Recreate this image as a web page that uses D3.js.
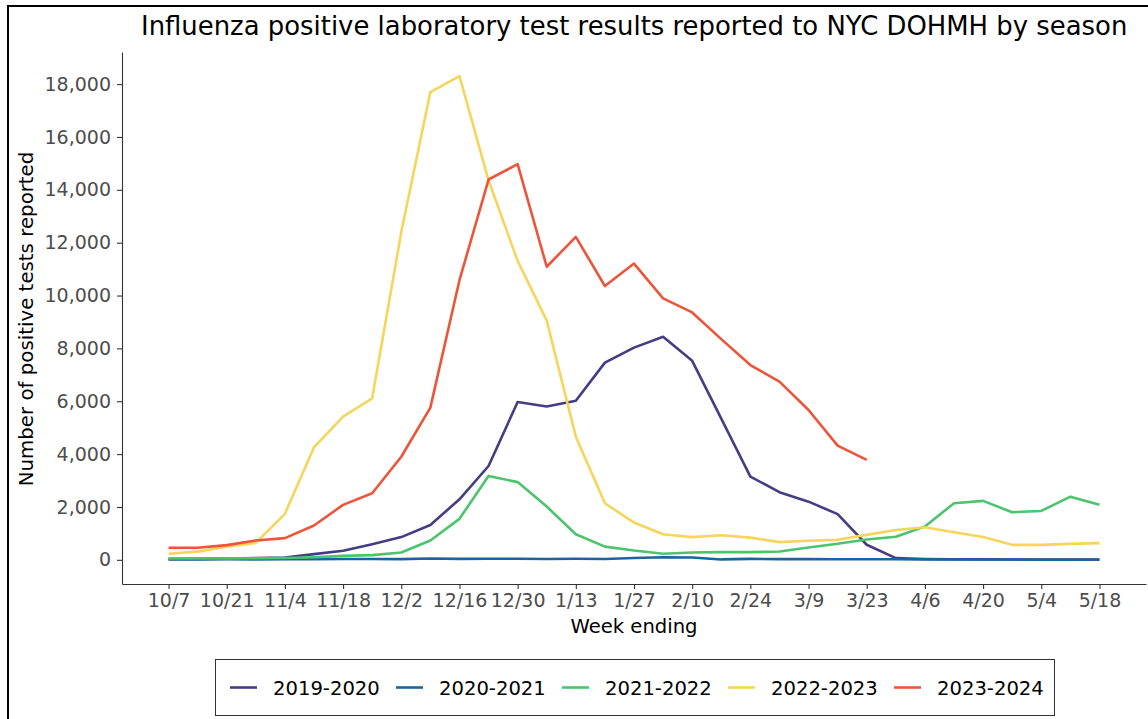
<!DOCTYPE html>
<html>
<head>
<meta charset="utf-8">
<script src="https://cdn.jsdelivr.net/npm/d3@7"></script>
<style>
  html, body { margin: 0; padding: 0; background: #fff; }
  svg { display: block; font-family: "DejaVu Sans", sans-serif; }
</style>
</head>
<body>
<svg id="chart" width="1148" height="719"></svg>
<script>
// ---- Data ----
const weeks = ["10/7","10/14","10/21","10/28","11/4","11/11","11/18","11/25","12/2","12/9","12/16","12/23","12/30","1/6","1/13","1/20","1/27","2/3","2/10","2/17","2/24","3/2","3/9","3/16","3/23","3/30","4/6","4/13","4/20","4/27","5/4","5/11","5/18"];
const seasons = ["2019-2020","2020-2021","2021-2022","2022-2023","2023-2024"];
const colors = ["#433D84","#20639B","#4BC46C","#F6D55C","#ED553B"];
const s2019_2020 = [30,35,45,70,90,215,340,590,860,1320,2290,3550,5970,5800,6020,7460,8030,8440,7530,5340,3150,2560,2200,1730,570,64,30,20,15,10,10,10,10];
const s2020_2021 = [10,15,20,15,20,25,30,30,25,50,35,40,40,30,40,30,70,100,90,15,35,25,25,20,20,20,15,10,10,10,5,5,5];
const s2021_2022 = [50,50,55,60,70,100,150,176,277,730,1550,3175,2940,2015,970,500,350,227,277,290,290,315,465,605,770,870,1260,2140,2230,1800,1850,2390,2080];
const s2022_2023 = [230,310,500,640,1740,4260,5420,6110,12400,17700,18300,14360,11310,9050,4660,2140,1410,970,860,930,840,670,720,756,945,1130,1235,1045,860,567,567,605,630];
const s2023_2024 = [454,454,555,730,820,1300,2080,2520,3900,5760,10580,14390,14970,11090,12220,10360,11210,9890,9360,8350,7370,6740,5670,4320,3780];
const yTicks = [0,2000,4000,6000,8000,10000,12000,14000,16000,18000];
const xTickIdx = [0,2,4,6,8,10,12,14,16,18,20,22,24,26,28,30,32];

const seriesValues = [s2019_2020, s2020_2021, s2021_2022, s2022_2023, s2023_2024];

// ---- Layout ----
const svg = d3.select("#chart");
const L = 122, R = 1146, T = 52, B = 584;

// outer frame
svg.append("rect").attr("x", 8).attr("y", 6).attr("width", 1200).attr("height", 800)
  .attr("fill", "none").attr("stroke", "#000").attr("stroke-width", 2);

const x = d3.scaleLinear().domain([-1.6, 33.6]).range([L, R]);
const y = d3.scaleLinear().domain([-915, 19215]).range([B, T]);

// Axes
const yAxis = d3.axisLeft(y).tickValues(yTicks).tickFormat(d3.format(",")).tickSize(5).tickSizeOuter(0).tickPadding(6);
const xAxis = d3.axisBottom(x).tickValues(xTickIdx).tickFormat(i => weeks[i]).tickSize(5).tickSizeOuter(0).tickPadding(5);

const gy = svg.append("g").attr("transform", `translate(${L},0)`).call(yAxis);
const gx = svg.append("g").attr("transform", `translate(0,${B})`).call(xAxis);
[gx, gy].forEach(g => {
  g.select(".domain").attr("stroke", "#333").attr("stroke-width", 1.1);
  g.selectAll(".tick line").attr("stroke", "#333").attr("stroke-width", 1.1);
  g.selectAll(".tick text").attr("fill", "#4d4d4d").style("font-size", "19px").style("font-family", "DejaVu Sans");
});

// Lines
const line = d3.line().x((d, i) => x(i)).y(d => y(d));
seriesValues.forEach((vals, k) => {
  svg.append("path").datum(vals)
    .attr("fill", "none").attr("stroke", colors[k]).attr("stroke-width", 2.6)
    .attr("stroke-linejoin", "round").attr("d", line);
});

// Titles
svg.append("text").attr("x", 141).attr("y", 35).attr("fill", "#000")
  .style("font-size", "25.9px").text("Influenza positive laboratory test results reported to NYC DOHMH by season");
svg.append("text").attr("x", (L + R) / 2).attr("y", 633).attr("text-anchor", "middle")
  .attr("fill", "#000").style("font-size", "19.6px").text("Week ending");
svg.append("text").attr("transform", `translate(33,${(T + B) / 2 + 1}) rotate(-90)`).attr("text-anchor", "middle")
  .attr("fill", "#000").style("font-size", "19.8px").text("Number of positive tests reported");

// Legend
const lg = svg.append("g");
lg.append("rect").attr("x", 215.5).attr("y", 659.5).attr("width", 839).attr("height", 56)
  .attr("fill", "#fff").attr("stroke", "#333").attr("stroke-width", 1);
seasons.forEach((s, k) => {
  const x0 = 230 + k * 166;
  lg.append("line").attr("x1", x0).attr("x2", x0 + 27).attr("y1", 687.5).attr("y2", 687.5)
    .attr("stroke", colors[k]).attr("stroke-width", 2.6);
  lg.append("text").attr("x", x0 + 43).attr("y", 695).attr("fill", "#000")
    .style("font-size", "19.6px").text(s);
});
</script>
</body>
</html>
